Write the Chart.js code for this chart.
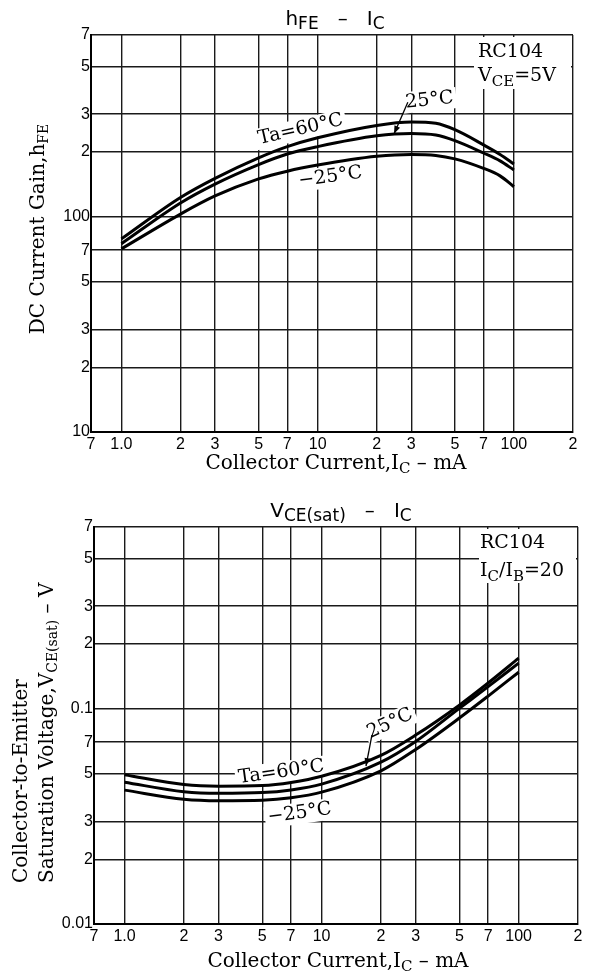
<!DOCTYPE html>
<html><head><meta charset="utf-8">
<script src="https://cdn.jsdelivr.net/npm/chart.js@4.4.1/dist/chart.umd.min.js"></script>
<style>
html,body{margin:0;padding:0;background:#fff;}
canvas{display:block;}
</style></head><body>
<canvas id="c1" width="590" height="490"></canvas>
<canvas id="c2" width="590" height="490"></canvas>
<script>
// ---- tick values / labels ----
const xTickValues = [0.7, 1, 2, 3, 5, 7, 10, 20, 30, 50, 70, 100, 200];
const xTickLabels = ['7', '1.0', '2', '3', '5', '7', '10', '2', '3', '5', '7', '100', '2'];
const hfeTickValues = [10, 20, 30, 50, 70, 100, 200, 300, 500, 700];
const hfeTickLabels = ['10', '2', '3', '5', '7', '100', '2', '3', '5', '7'];
const vceTickValues = [0.01, 0.02, 0.03, 0.05, 0.07, 0.1, 0.2, 0.3, 0.5, 0.7];
const vceTickLabels = ['0.01', '2', '3', '5', '7', '0.1', '2', '3', '5', '7'];

// ---- hFE - IC (mA) ----
const icHfe   = [1, 2, 3, 5, 7, 10, 20, 30, 40, 50, 70, 85, 100];
const hfe60   = [79, 123, 151, 188, 212, 233, 266, 276, 272, 254, 216, 195, 176];
const hfe25   = [75, 116, 142, 175, 196, 212, 238, 244, 240, 226, 198, 182, 165];
const hfeM25  = [71, 103, 125, 150, 163, 174, 191, 195, 193, 186, 168, 155, 138];

// ---- VCE(sat) - IC (mA) ----
const icVce   = [1, 2, 3, 5, 7, 10, 20, 30, 50, 70, 100];
const vce60   = [0.0494, 0.0445, 0.0437, 0.0440, 0.0455, 0.0486, 0.0608, 0.0755, 0.1040, 0.1318, 0.172];
const vce25   = [0.0456, 0.0412, 0.0405, 0.0408, 0.0420, 0.0447, 0.0565, 0.0705, 0.1005, 0.1268, 0.163];
const vceM25  = [0.0419, 0.0380, 0.0374, 0.0376, 0.0386, 0.0410, 0.0515, 0.0647, 0.0906, 0.1146, 0.148];

const SERIF = "'DejaVu Serif', 'Liberation Serif', serif";
const SANS = "'DejaVu Sans', 'Liberation Sans', sans-serif";
const TICKFONT = "'Liberation Sans', 'DejaVu Sans', sans-serif";

function labelFor(vals, labels, v) {
  for (let i = 0; i < vals.length; i++) if (Math.abs(v - vals[i]) / vals[i] < 1e-6) return labels[i];
  return '';
}

function partFont(p, o) { return (p.sub ? o.subSize || o.size * 0.72 : o.size) + 'px ' + o.family; }
function richWidth(ctx, parts, o) {
  let w = 0;
  for (const p of parts) { ctx.font = partFont(p, o); w += ctx.measureText(p.t).width; }
  return w;
}
// draws rich text: (x,y) = anchor on baseline; align 'left' | 'center'
function drawRich(ctx, parts, x, y, o, mode) {
  ctx.save();
  ctx.translate(x, y);
  ctx.rotate((o.angle || 0) * Math.PI / 180);
  const w = richWidth(ctx, parts, o);
  let cx = o.align === 'center' ? -w / 2 : 0;
  if (mode === 'bg') {
    ctx.fillStyle = '#fff';
    ctx.fillRect(cx - 3, -o.size * 0.82, w + 6, o.size * 1.12);
  } else {
    ctx.fillStyle = '#000';
    ctx.textAlign = 'left';
    ctx.textBaseline = 'alphabetic';
    for (const p of parts) {
      ctx.font = partFont(p, o);
      ctx.fillText(p.t, cx, p.sub ? (o.subDy != null ? o.subDy : o.size * 0.3) : 0);
      cx += ctx.measureText(p.t).width;
    }
  }
  ctx.restore();
}

function drawArrow(ctx, x1, y1, x2, y2) {
  ctx.save();
  ctx.strokeStyle = '#000'; ctx.fillStyle = '#000'; ctx.lineWidth = 1.3;
  ctx.beginPath(); ctx.moveTo(x1, y1); ctx.lineTo(x2, y2); ctx.stroke();
  const a = Math.atan2(y2 - y1, x2 - x1), L = 8, W = 3;
  ctx.beginPath();
  ctx.moveTo(x2, y2);
  ctx.lineTo(x2 - L * Math.cos(a) + W * Math.sin(a), y2 - L * Math.sin(a) - W * Math.cos(a));
  ctx.lineTo(x2 - L * Math.cos(a) - W * Math.sin(a), y2 - L * Math.sin(a) + W * Math.cos(a));
  ctx.closePath(); ctx.fill();
  ctx.restore();
}

function annotPlugin(cfg) {
  function curveLabels(chart, mode) {
    const ctx = chart.ctx, xs = chart.scales.x, ys = chart.scales.y, ca = chart.chartArea;
    // info box (top right)
    if (mode === 'bg') {
      ctx.save(); ctx.fillStyle = '#fff';
      ctx.fillRect(ca.right - cfg.box.w, ca.top + 2, cfg.box.w - 2, cfg.box.h);
      ctx.restore();
    } else {
      cfg.box.lines.forEach(l => drawRich(ctx, l.parts, ca.right - cfg.box.textInset, ca.top + l.dy,
        { size: 19, subSize: 15, subDy: 5, family: SERIF, align: 'left' }, 'text'));
    }
    for (const L of cfg.labels) {
      const px = xs.getPixelForValue(L.x), py = ys.getPixelForValue(L.y);
      drawRich(ctx, L.parts, px, py + 6, { size: 19, family: SERIF, align: 'center', angle: L.angle }, mode);
    }
    if (mode !== 'bg') {
      for (const A of cfg.arrows) {
        drawArrow(ctx, xs.getPixelForValue(A.from[0]), ys.getPixelForValue(A.from[1]),
                       xs.getPixelForValue(A.to[0]), ys.getPixelForValue(A.to[1]));
      }
    }
  }
  return {
    id: 'annot_' + cfg.id,
    beforeDatasetsDraw(chart) { curveLabels(chart, 'bg'); },
    afterDatasetsDraw(chart) { curveLabels(chart, 'text'); },
    afterDraw(chart) {
      const ctx = chart.ctx;
      const t = cfg.title;
      drawRich(ctx, t.parts, t.x, t.y, { size: 20, subSize: 17, subDy: 4, family: SANS, align: 'center' }, 'text');
      const xt = cfg.xTitle;
      drawRich(ctx, xt.parts, xt.x, xt.y, { size: 20, subSize: 15, subDy: 4, family: SERIF, align: 'center' }, 'text');
      for (const yl of cfg.yTitle) {
        drawRich(ctx, yl.parts, yl.bx, yl.y, { size: 20, subSize: 14, subDy: 4, family: SERIF, align: yl.align, angle: -90 }, 'text');
      }
    }
  };
}

function makeChart(cfg) {
  const el = document.getElementById(cfg.id);
  return new Chart(el, {
    type: 'line',
    data: {
      datasets: cfg.series.map(s => ({
        data: cfg.ic.map((x, i) => ({ x: x, y: s[i] })),
        borderColor: '#000', borderWidth: 3, pointRadius: 0,
        cubicInterpolationMode: 'monotone', fill: false
      }))
    },
    options: {
      responsive: false, animation: false, devicePixelRatio: 1,
      layout: { padding: { top: cfg.area.top, right: cfg.area.right, left: 0, bottom: 0 } },
      plugins: { legend: { display: false }, title: { display: false }, tooltip: { enabled: false } },
      scales: {
        x: {
          type: 'logarithmic', min: 0.7, max: 200,
          afterBuildTicks: s => { s.ticks = xTickValues.map(v => ({ value: v })); },
          afterFit: s => { s.height = cfg.area.xh; },
          ticks: { autoSkip: false, maxRotation: 0, padding: 3, color: '#000',
                   font: { family: TICKFONT, size: 16 },
                   callback: v => labelFor(xTickValues, xTickLabels, v) },
          grid: { color: '#1a1a1a', lineWidth: 1.4, drawTicks: false },
          border: { color: '#000', width: 2 }
        },
        y: {
          type: 'logarithmic', min: cfg.yTicks[0], max: cfg.yTicks[cfg.yTicks.length - 1],
          afterBuildTicks: s => { s.ticks = cfg.yTicks.map(v => ({ value: v })); },
          afterFit: s => { s.width = cfg.area.yw; },
          ticks: { autoSkip: false, padding: 1, color: '#000',
                   font: { family: TICKFONT, size: 16 },
                   callback: v => labelFor(cfg.yTicks, cfg.yLabels, v) },
          grid: { color: '#1a1a1a', lineWidth: 1.4, drawTicks: false },
          border: { color: '#000', width: 2 }
        }
      }
    },
    plugins: [annotPlugin(cfg)]
  });
}

makeChart({
  id: 'c1', ic: icHfe, series: [hfe60, hfe25, hfeM25],
  yTicks: hfeTickValues, yLabels: hfeTickLabels,
  area: { top: 35, right: 17, yw: 91, xh: 58 },
  box: { w: 99, h: 52, textInset: 95,
         lines: [ { parts: [{ t: 'RC104' }], dy: 22 },
                  { parts: [{ t: 'V' }, { t: 'CE', sub: true }, { t: '=5V' }], dy: 46 } ] },
  labels: [
    { parts: [{ t: 'Ta=60°C' }], x: 8.3, y: 258, angle: -13 },
    { parts: [{ t: '25°C' }], x: 37.3, y: 352, angle: -6 },
    { parts: [{ t: '−25°C' }], x: 11.7, y: 155, angle: -8 }
  ],
  arrows: [ { from: [28.8, 341], to: [24.5, 243] } ],
  title: { parts: [{ t: 'h' }, { t: 'FE', sub: true }, { t: '   –   ' }, { t: 'I' }, { t: 'C', sub: true }], x: 335, y: 25 },
  xTitle: { parts: [{ t: 'Collector Current,I' }, { t: 'C', sub: true }, { t: ' – mA' }], x: 336, y: 469 },
  yTitle: [ { parts: [{ t: 'DC Current Gain,h' }, { t: 'FE', sub: true }], bx: 44, y: 229, align: 'center' } ]
});

makeChart({
  id: 'c2', ic: icVce, series: [vce60, vce25, vceM25],
  yTicks: vceTickValues, yLabels: vceTickLabels,
  area: { top: 37, right: 12, yw: 94, xh: 56 },
  box: { w: 99, h: 54, textInset: 98,
         lines: [ { parts: [{ t: 'RC104' }], dy: 21 },
                  { parts: [{ t: 'I' }, { t: 'C', sub: true }, { t: '/I' }, { t: 'B', sub: true }, { t: '=20' }], dy: 49 } ] },
  labels: [
    { parts: [{ t: 'Ta=60°C' }], x: 6.3, y: 0.0514, angle: -8 },
    { parts: [{ t: '25°C' }], x: 22.8, y: 0.0868, angle: -25 },
    { parts: [{ t: '−25°C' }], x: 7.8, y: 0.0331, angle: -8 }
  ],
  arrows: [ { from: [18.0, 0.0755], to: [16.8, 0.0542] } ],
  title: { parts: [{ t: 'V' }, { t: 'CE(sat)', sub: true }, { t: '   –   ' }, { t: 'I' }, { t: 'C', sub: true }], x: 341, y: 27 },
  xTitle: { parts: [{ t: 'Collector Current,I' }, { t: 'C', sub: true }, { t: ' – mA' }], x: 338, y: 477 },
  yTitle: [
    { parts: [{ t: 'Collector-to-Emitter' }], bx: 27, y: 393, align: 'left' },
    { parts: [{ t: 'Saturation Voltage,V' }, { t: 'CE(sat)', sub: true }, { t: ' – V' }], bx: 53, y: 393, align: 'left' }
  ]
});
</script>
</body></html>
